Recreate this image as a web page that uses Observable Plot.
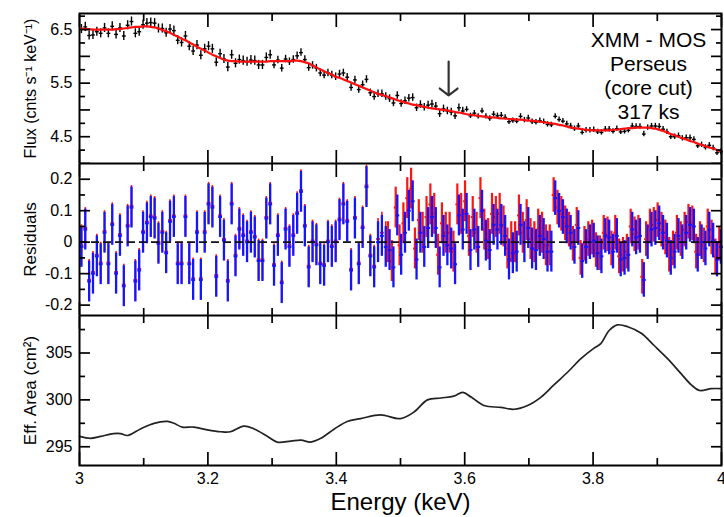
<!DOCTYPE html>
<html><head><meta charset="utf-8">
<script src="https://cdn.jsdelivr.net/npm/d3@7"></script>
<script src="https://cdn.jsdelivr.net/npm/@observablehq/plot@0.6"></script>
<style>
body{margin:0;background:#fff;}
#chart svg{display:block;}
</style></head><body><div id="chart"></div>
<script>
// ---- data ----
const energy = [
3.003,3.009,3.015,3.021,3.027,3.033,3.039,3.045,3.051,3.057,
3.063,3.069,3.075,3.081,3.087,3.093,3.099,3.105,3.111,3.117,
3.123,3.129,3.135,3.141,3.147,3.153,3.159,3.165,3.171,3.177,
3.183,3.189,3.195,3.201,3.207,3.213,3.219,3.225,3.231,3.237,
3.243,3.249,3.255,3.261,3.267,3.273,3.279,3.285,3.291,3.297,
3.303,3.309,3.315,3.321,3.327,3.333,3.339,3.345,3.351,3.357,
3.363,3.369,3.375,3.381,3.387,3.393,3.399,3.405,3.411,3.417,
3.423,3.429,3.435,3.441,3.447,3.453,3.459,3.465,3.471,3.477,
3.483,3.489,3.495,3.501,3.507,3.513,3.519,3.525,3.531,3.537,
3.543,3.549,3.555,3.561,3.567,3.573,3.579,3.585,3.591,3.597,
3.603,3.609,3.615,3.621,3.627,3.633,3.639,3.645,3.651,3.657,
3.663,3.669,3.675,3.681,3.687,3.693,3.699,3.705,3.711,3.717,
3.723,3.729,3.735,3.741,3.747,3.753,3.759,3.765,3.771,3.777,
3.783,3.789,3.795,3.801,3.807,3.813,3.819,3.825,3.831,3.837,
3.843,3.849,3.855,3.861,3.867,3.873,3.879,3.885,3.891,3.897,
3.903,3.909,3.915,3.921,3.927,3.933,3.939,3.945,3.951,3.957,
3.963,3.969,3.975,3.981,3.987,3.993,3.999];
const binHalfWidth = 0.003;

const modelFlux = [
6.52,6.51,6.51,6.50,6.50,6.50,6.50,6.50,6.50,6.51,
6.51,6.52,6.53,6.54,6.55,6.55,6.56,6.56,6.55,6.54,
6.52,6.49,6.47,6.44,6.40,6.37,6.33,6.30,6.26,6.22,
6.18,6.14,6.11,6.07,6.03,6.00,5.97,5.94,5.92,5.91,
5.91,5.90,5.90,5.90,5.90,5.90,5.90,5.90,5.90,5.91,
5.91,5.91,5.91,5.91,5.91,5.92,5.92,5.91,5.89,5.87,
5.83,5.79,5.76,5.72,5.69,5.66,5.62,5.60,5.57,5.54,
5.51,5.48,5.45,5.42,5.39,5.36,5.33,5.30,5.28,5.26,
5.23,5.21,5.18,5.16,5.14,5.12,5.10,5.09,5.07,5.06,
5.04,5.03,5.02,5.01,5.00,4.99,4.98,4.96,4.95,4.94,
4.92,4.91,4.90,4.89,4.88,4.87,4.86,4.86,4.85,4.84,
4.84,4.83,4.83,4.82,4.82,4.81,4.80,4.80,4.79,4.78,
4.77,4.76,4.75,4.74,4.72,4.71,4.69,4.67,4.66,4.65,
4.64,4.63,4.62,4.62,4.62,4.62,4.62,4.62,4.63,4.63,
4.64,4.65,4.66,4.66,4.67,4.67,4.67,4.67,4.66,4.65,
4.63,4.61,4.58,4.55,4.53,4.50,4.47,4.45,4.42,4.40,
4.37,4.35,4.32,4.30,4.28,4.25,4.23];

const dataFlux = [
6.51,6.55,6.39,6.40,6.46,6.43,6.53,6.43,6.56,6.41,
6.53,6.38,6.58,6.65,6.43,6.46,6.59,6.62,6.63,6.62,
6.52,6.52,6.44,6.51,6.48,6.30,6.26,6.38,6.19,6.10,
6.21,6.02,6.14,6.19,6.14,5.89,6.05,5.95,5.80,6.03,
5.87,5.94,5.92,5.90,5.93,5.92,5.84,5.84,5.98,6.03,
5.84,5.93,5.78,5.95,5.90,5.94,6.01,6.07,5.94,5.79,
5.83,5.78,5.69,5.65,5.69,5.65,5.62,5.67,5.69,5.61,
5.42,5.56,5.38,5.47,5.57,5.32,5.25,5.30,5.30,5.25,
5.21,5.13,5.27,5.12,5.17,5.22,5.23,5.04,5.10,5.05,
5.09,5.11,5.07,4.93,5.02,4.98,4.96,4.89,5.04,4.98,
5.01,4.89,4.94,4.88,4.98,4.88,4.84,4.92,4.89,4.90,
4.86,4.78,4.80,4.79,4.88,4.81,4.85,4.78,4.77,4.80,
4.78,4.73,4.72,4.88,4.82,4.79,4.74,4.70,4.65,4.70,
4.58,4.62,4.62,4.63,4.59,4.58,4.64,4.64,4.60,4.65,
4.59,4.60,4.62,4.70,4.69,4.69,4.55,4.67,4.70,4.70,
4.69,4.64,4.59,4.50,4.50,4.52,4.47,4.48,4.48,4.45,
4.33,4.35,4.30,4.34,4.29,4.20,4.22];

const residBlue = [
-0.015,0.04,-0.125,-0.10,-0.045,-0.07,0.03,-0.07,0.055,-0.10,
0.02,-0.14,0.05,0.11,-0.125,-0.09,0.03,0.06,0.08,0.075,
-0.005,0.03,-0.035,0.065,0.08,-0.07,-0.07,0.08,-0.07,-0.12,
0.03,-0.12,0.03,0.12,0.11,-0.11,0.08,0.005,-0.125,0.12,
-0.045,0.04,0.02,0.0,0.03,0.015,-0.06,-0.06,0.075,0.12,
-0.075,0.02,-0.13,0.04,-0.015,0.02,0.09,0.16,0.05,-0.08,
0.0,-0.01,-0.07,-0.075,0.0,-0.015,0.0,0.07,0.12,0.065,
-0.09,0.075,-0.07,0.045,0.175,-0.045,-0.08,0.0,0.02,-0.015,
-0.025,-0.08,0.085,-0.04,0.03,0.10,0.13,-0.055,0.03,-0.015,
0.045,0.08,0.045,-0.08,0.02,-0.01,-0.02,-0.07,0.085,0.04,
0.09,-0.025,0.04,-0.015,0.10,0.005,-0.025,0.055,0.04,0.055,
0.02,-0.055,-0.035,-0.03,0.055,0.0,0.045,-0.02,-0.025,0.02,
0.01,-0.03,-0.03,0.14,0.10,0.08,0.05,0.03,-0.015,0.045,
-0.06,-0.015,0.0,0.005,-0.035,-0.045,0.02,0.015,-0.03,0.02,
-0.055,-0.05,-0.04,0.04,0.015,0.02,-0.12,0.0,0.04,0.045,
0.06,0.03,0.005,-0.05,-0.03,0.02,0.0,0.03,0.055,0.05,
-0.04,0.0,-0.02,0.04,0.005,-0.055,-0.015];

const residRed = [
-0.01,0.045,-0.12,-0.095,-0.04,-0.065,0.035,-0.065,0.06,-0.095,
0.025,-0.135,0.055,0.115,-0.12,-0.085,0.035,0.065,0.085,0.08,
0.0,0.035,-0.03,0.07,0.085,-0.065,-0.065,0.085,-0.065,-0.115,
0.035,-0.115,0.035,0.125,0.115,-0.105,0.085,0.01,-0.12,0.125,
-0.04,0.045,0.025,0.005,0.035,0.02,-0.055,-0.055,0.08,0.125,
-0.07,0.025,-0.125,0.045,-0.01,0.025,0.095,0.165,0.055,-0.075,
0.005,-0.005,-0.065,-0.07,0.005,-0.01,0.005,0.075,0.125,0.07,
-0.085,0.08,-0.065,0.05,0.18,-0.04,-0.075,0.01,0.03,0.0,
0.0,-0.06,0.11,-0.01,0.06,0.14,0.17,-0.02,0.07,0.03,
0.08,0.12,0.09,-0.04,0.06,0.03,0.03,-0.03,0.12,0.09,
0.13,0.02,0.08,0.03,0.14,0.04,0.01,0.09,0.08,0.09,
0.05,-0.02,0.0,0.0,0.085,0.03,0.07,0.01,0.0,0.04,
0.03,-0.01,-0.01,0.15,0.11,0.09,0.06,0.04,-0.005,0.055,
-0.05,-0.005,0.01,0.015,-0.025,-0.035,0.03,0.025,-0.02,0.03,
-0.045,-0.04,-0.03,0.05,0.025,0.03,-0.11,0.01,0.05,0.055,
0.07,0.04,0.015,-0.04,-0.02,0.03,0.01,0.04,0.065,0.06,
-0.03,0.01,-0.01,0.05,0.015,-0.045,-0.005];

// error-bar half sizes by energy segment
const fluxErrSegments = [{from:3.0,to:3.3,err:0.085},{from:3.3,to:3.6,err:0.07},{from:3.6,to:4.01,err:0.05}];
const residErrSegments = [{from:3.0,to:3.74,err:0.065},{from:3.74,to:4.01,err:0.055}];

const effEnergy = [3.0,3.017,3.033,3.053,3.064,3.075,3.095,3.116,3.137,3.147,3.16,3.178,3.199,3.22,3.235,3.256,3.272,3.293,3.308,3.329,3.345,3.36,3.376,3.397,3.417,3.438,3.469,3.5,3.521,3.542,3.563,3.583,3.597,3.61,3.63,3.656,3.677,3.698,3.719,3.739,3.761,3.781,3.801,3.812,3.825,3.838,3.854,3.875,3.895,3.916,3.937,3.953,3.966,3.984,4.0];
const effArea = [296.1,295.9,296.1,296.4,296.4,296.2,296.9,297.5,297.7,297.5,297.1,297.1,296.8,296.6,296.6,297.2,296.9,296.1,295.5,295.6,295.7,295.5,295.9,296.9,297.7,298.0,298.4,298.0,298.7,300.0,300.2,300.4,300.8,300.3,299.4,299.2,299.0,299.4,300.3,301.6,303.0,304.4,305.5,306.0,307.4,308.0,307.8,307.1,305.8,304.4,302.8,301.6,301.0,301.2,301.2];

const lineArrow = [{e:3.575, from:5.90, to:5.27}];
const annotation = ["XMM - MOS","Perseus","(core cut)","317 ks"];

const xMajor = [3,3.2,3.4,3.6,3.8,4];
const xMinor = [3.1,3.3,3.5,3.7,3.9];
const fluxLabels = [4.5,5.5,6.5];
const fluxMajor = [4.0,4.5,5.0,5.5,6.0,6.5];
const fluxMinor = [4.25,4.75,5.25,5.75,6.25,6.75];
const residMajor = [-0.2,-0.1,0,0.1,0.2];
const residMinor = [-0.15,-0.05,0.05,0.15];
const areaMajor = [295,300,305];
const areaMinor = [297.5,302.5,307.5];

// ---- build table ----
const segErr = (segs, e) => segs.find(s => e >= s.from && e < s.to).err;
const bins = energy.map((e,i) => ({
  e, model: modelFlux[i], flux: dataFlux[i], ferr: segErr(fluxErrSegments, e),
  rb: residBlue[i], rr: residRed[i], rerr: segErr(residErrSegments, e)
}));
const binsEarly = bins.filter(d => d.e < 3.48);
const binsLate = bins.filter(d => d.e >= 3.48);
const effData = effEnergy.map((e,i) => ({e, a: effArea[i]}));

// ---- layout ----
const W = 724, ML = 79, MR = 3;
const style = {fontFamily:"'Liberation Sans', Arial, Helvetica, sans-serif", fontSize:"16px", color:"black", background:"white"};
const SW = 1.7;
const blank = () => "";

function tickMarks(yMaj, yMin) {
  return [
    Plot.axisY({anchor:"left", ticks:yMaj, tickSize:-11, tickFormat:blank, label:null, strokeWidth:SW}),
    Plot.axisY({anchor:"left", ticks:yMin, tickSize:-6, tickFormat:blank, label:null, strokeWidth:SW}),
    Plot.axisY({anchor:"right", ticks:yMaj, tickSize:-11, tickFormat:blank, label:null, strokeWidth:SW}),
    Plot.axisY({anchor:"right", ticks:yMin, tickSize:-6, tickFormat:blank, label:null, strokeWidth:SW}),
    Plot.axisX({anchor:"top", ticks:xMajor, tickSize:-13, tickFormat:blank, label:null, strokeWidth:SW}),
    Plot.axisX({anchor:"top", ticks:xMinor, tickSize:-7, tickFormat:blank, label:null, strokeWidth:SW}),
    Plot.axisX({anchor:"bottom", ticks:xMajor, tickSize:-13, tickFormat:blank, label:null, strokeWidth:SW}),
    Plot.axisX({anchor:"bottom", ticks:xMinor, tickSize:-7, tickFormat:blank, label:null, strokeWidth:SW}),
    Plot.frame({stroke:"black", strokeWidth:2})
  ];
}
const yTitle = (t, fs) => Plot.text([t], {frameAnchor:"left", dx:-49, rotate:-90, textAnchor:"middle", lineAnchor:"middle", fontSize:fs, fill:"black"});

const p1 = Plot.plot({
  width:W, height:163, marginLeft:ML, marginRight:MR, marginTop:13, marginBottom:0,
  x:{domain:[3,4]}, y:{domain:[4.0,6.8]}, style,
  marks:[
    Plot.ruleX(bins, {x:"e", y1:d=>d.flux-d.ferr, y2:d=>d.flux+d.ferr, stroke:"black", strokeWidth:1.4}),
    Plot.link(bins, {x1:d=>d.e-binHalfWidth, x2:d=>d.e+binHalfWidth, y1:"flux", y2:"flux", stroke:"black", strokeWidth:1.4}),
    Plot.line(bins, {x:"e", y:"model", stroke:"#ff1010", strokeWidth:2.2, curve:"catmull-rom"}),
    Plot.arrow(lineArrow, {x1:"e", x2:"e", y1:"from", y2:"to", stroke:"#333", strokeWidth:2.2, headLength:13, headAngle:104}),
    Plot.text([annotation.join("\n")], {frameAnchor:"top-right", dx:-73, dy:16, textAnchor:"middle", lineAnchor:"top", lineHeight:1.15, fontSize:21, fill:"black"}),
    Plot.axisY({anchor:"left", ticks:fluxLabels, tickSize:0, tickPadding:7, tickFormat:d=>d.toFixed(1), label:null}),
    yTitle("Flux (cnts s\u207B\u00B9 keV\u207B\u00B9)", 16),
    ...tickMarks(fluxMajor, fluxMinor)
  ]
});

const residMarks = (data, key, color, dx, w) => [
  Plot.ruleX(data, {x:"e", y1:d=>d[key]-d.rerr, y2:d=>d[key]+d.rerr, stroke:color, strokeWidth:w, dx}),
  Plot.link(data, {x1:d=>d.e-binHalfWidth, x2:d=>d.e+binHalfWidth, y1:key, y2:key, stroke:color, strokeWidth:2, dx})
];

const p2 = Plot.plot({
  width:W, height:152, marginLeft:ML, marginRight:MR, marginTop:0, marginBottom:0,
  x:{domain:[3,4]}, y:{domain:[-0.233,0.25]}, style,
  marks:[
    ...residMarks(binsEarly, "rr", "#ff1414", 0, 1.6),
    ...residMarks(binsLate, "rr", "#ff1414", -1.6, 2.2),
    ...residMarks(bins, "rb", "#1414ff", 0, 2.3),
    Plot.ruleY([0], {stroke:"#111", strokeWidth:1.6, strokeDasharray:"8,4"}),
    Plot.axisY({anchor:"left", ticks:residMajor, tickSize:0, tickPadding:7, tickFormat:d=>String(d), label:null}),
    yTitle("Residuals", 17),
    ...tickMarks(residMajor, residMinor)
  ]
});

const p3 = Plot.plot({
  width:W, height:202, marginLeft:ML, marginRight:MR, marginTop:0, marginBottom:52,
  x:{domain:[3,4]}, y:{domain:[293,309]}, style,
  marks:[
    Plot.line(effData, {x:"e", y:"a", stroke:"#222", strokeWidth:1.7, curve:"catmull-rom"}),
    Plot.axisY({anchor:"left", ticks:areaMajor, tickSize:0, tickPadding:7, tickFormat:d=>String(d), label:null}),
    Plot.axisX({anchor:"bottom", ticks:xMajor, tickSize:0, tickPadding:7, tickFormat:d=>String(+d.toFixed(1)), label:null}),
    yTitle("Eff. Area (cm\u00B2)", 17),
    Plot.text(["Energy (keV)"], {frameAnchor:"bottom", dy:44, lineAnchor:"bottom", fontSize:24, fill:"black"}),
    ...tickMarks(areaMajor, areaMinor)
  ]
});

const el = document.getElementById("chart");
el.append(p1, p2, p3);
</script></body></html>
